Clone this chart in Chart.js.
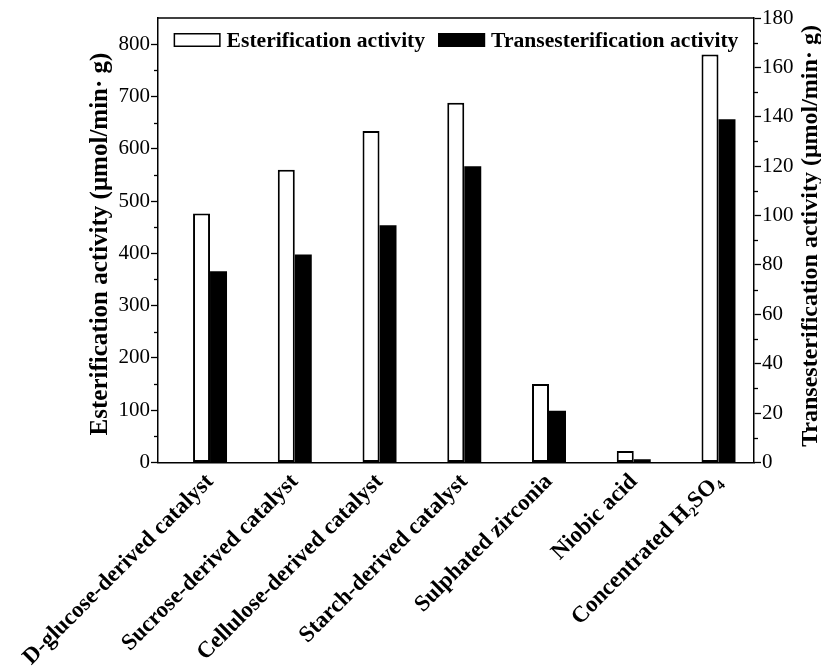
<!DOCTYPE html>
<html>
<head>
<meta charset="utf-8">
<script src="https://cdn.jsdelivr.net/npm/chart.js@4/dist/chart.umd.min.js"></script>
<style>
  html, body { margin: 0; padding: 0; background: #fff; }
  canvas { display: block; }
</style>
</head>
<body>
<canvas id="chart" width="821" height="666"></canvas>
<script>
// Catalysts compared
const categories = [
  'D-glucose-derived catalyst',
  'Sucrose-derived catalyst',
  'Cellulose-derived catalyst',
  'Starch-derived catalyst',
  'Sulphated zirconia',
  'Niobic acid',
  'Concentrated H\u2082SO\u2084'
];

// Activities, μmol/min·g
const esterification = [476, 560, 634, 688, 150, 22, 780];
const transesterification = [77.4, 84.2, 96.1, 120, 21, 1.3, 139];

const seriesNames = ['Esterification activity', 'Transesterification activity'];
const axisTitles = [
  'Esterification activity (\u03bcmol/min\u00b7 g)',
  'Transesterification activity (\u03bcmol/min\u00b7 g)'
];

// Axis ticks (labelled) and the unlabelled minor ticks between them
const esterTicks = [0, 100, 200, 300, 400, 500, 600, 700, 800];
const esterMinorTicks = [50, 150, 250, 350, 450, 550, 650, 750];
const transTicks = [0, 20, 40, 60, 80, 100, 120, 140, 160, 180];
const transMinorTicks = [10, 30, 50, 70, 90, 110, 130, 150, 170];

const SERIF = '"Liberation Serif", "Times New Roman", Times, serif';

function points(values) {
  return values.map((v, i) => ({ x: i + 1, y: v }));
}

// Plot frame top edge, minor ticks, rotated axis titles and the in-plot legend
const decorations = {
  id: 'decorations',
  afterDraw(chart) {
    const { ctx, chartArea: a, scales } = chart;
    ctx.save();
    ctx.strokeStyle = '#000';
    ctx.lineWidth = 1.5;
    ctx.beginPath();
    ctx.moveTo(a.left, a.top);
    ctx.lineTo(a.right, a.top);
    ctx.stroke();

    ctx.lineWidth = 1.3;
    esterMinorTicks.forEach(v => {
      const y = Math.round(scales.y.getPixelForValue(v)) + 0.5;
      ctx.beginPath(); ctx.moveTo(a.left - 4, y); ctx.lineTo(a.left, y); ctx.stroke();
    });
    transMinorTicks.forEach(v => {
      const y = Math.round(scales.y1.getPixelForValue(v)) + 0.5;
      ctx.beginPath(); ctx.moveTo(a.right, y); ctx.lineTo(a.right + 4, y); ctx.stroke();
    });

    ctx.fillStyle = '#000';
    ctx.textAlign = 'center';
    ctx.textBaseline = 'middle';
    ctx.font = 'bold 25px ' + SERIF;
    ctx.save();
    ctx.translate(101, 244);
    ctx.rotate(-Math.PI / 2);
    ctx.fillText(axisTitles[0], 0, 0);
    ctx.restore();
    ctx.font = 'bold 24px ' + SERIF;
    ctx.save();
    ctx.translate(811, 236);
    ctx.rotate(-Math.PI / 2);
    ctx.fillText(axisTitles[1], 0, 0);
    ctx.restore();

    // legend row inside the top of the plot
    ctx.font = 'bold 21.6px ' + SERIF;
    const boxW = 47, boxH = 14, gapText = 6, gapItem = 13;
    const ds = chart.data.datasets;
    const widths = ds.map(d => ctx.measureText(d.label).width);
    let total = 0;
    widths.forEach((w, i) => { total += boxW + gapText + w + (i ? gapItem : 0); });
    let x = (a.left + a.right) / 2 - total / 2;
    const rowY = a.top + 22;
    ctx.textAlign = 'left';
    ds.forEach((d, i) => {
      if (i) x += gapItem;
      ctx.fillStyle = d.backgroundColor;
      ctx.fillRect(x, rowY - boxH / 2, boxW, boxH);
      ctx.lineWidth = 1.5;
      ctx.strokeStyle = '#000';
      ctx.strokeRect(x + 0.75, rowY - boxH / 2 + 0.75, boxW - 1.5, boxH - 1.5);
      x += boxW + gapText;
      ctx.fillStyle = '#000';
      ctx.fillText(d.label, x, rowY + 1);
      x += widths[i];
    });
    ctx.restore();
  }
};

new Chart(document.getElementById('chart'), {
  type: 'bar',
  data: {
    datasets: [
      {
        label: seriesNames[0],
        data: points(esterification),
        yAxisID: 'y',
        backgroundColor: '#ffffff',
        borderColor: '#000000',
        borderWidth: 2,
        borderSkipped: false,
        categoryPercentage: 0.401,
        barPercentage: 1
      },
      {
        label: seriesNames[1],
        data: points(transesterification),
        yAxisID: 'y1',
        backgroundColor: '#000000',
        borderColor: '#000000',
        borderWidth: 0,
        categoryPercentage: 0.401,
        barPercentage: 1
      }
    ]
  },
  options: {
    responsive: false,
    animation: false,
    devicePixelRatio: 1,
    layout: { padding: { top: 18, left: 0, right: 0, bottom: 0 } },
    plugins: { legend: { display: false }, tooltip: { enabled: false } },
    scales: {
      x: {
        type: 'linear',
        offset: false,
        min: 0.386,
        max: 7.419,
        afterBuildTicks: s => { s.ticks = categories.map((c, i) => ({ value: i + 1 })); },
        afterFit: s => { s.height = 203.5; },
        ticks: {
          callback: v => categories[v - 1],
          autoSkip: false,
          minRotation: 45,
          maxRotation: 45,
          color: '#000',
          padding: 6,
          font: { family: SERIF, size: 23, weight: 'bold' }
        },
        grid: { display: true, offset: false, drawOnChartArea: false, drawTicks: false },
        border: { display: true, color: '#000', width: 1.5 }
      },
      y: {
        position: 'left',
        min: 0,
        max: 850,
        afterBuildTicks: s => { s.ticks = esterTicks.map(v => ({ value: v })); },
        afterFit: s => { s.width = 158; },
        ticks: { color: '#000', padding: 1, font: { family: SERIF, size: 21 } },
        grid: { drawOnChartArea: false, tickLength: 7, color: '#000', tickWidth: 1.3 },
        border: { display: true, color: '#000', width: 1.5 }
      },
      y1: {
        position: 'right',
        min: 0,
        max: 180,
        afterBuildTicks: s => { s.ticks = transTicks.map(v => ({ value: v })); },
        afterFit: s => { s.width = 67; },
        ticks: { color: '#000', padding: 1, font: { family: SERIF, size: 21 } },
        grid: { drawOnChartArea: false, tickLength: 7, color: '#000', tickWidth: 1.3 },
        border: { display: true, color: '#000', width: 1.5 }
      }
    }
  },
  plugins: [decorations]
});
</script>
</body>
</html>
